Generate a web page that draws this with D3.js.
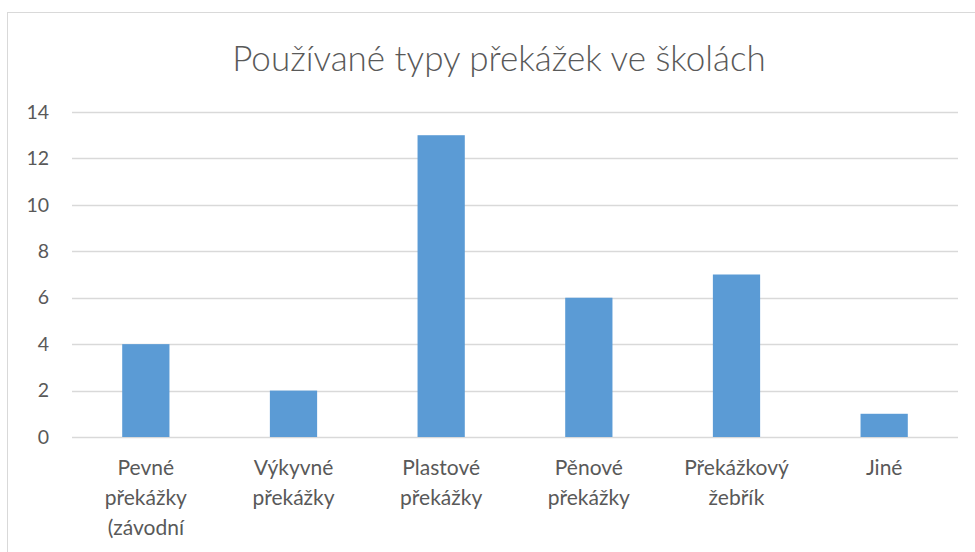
<!DOCTYPE html>
<html>
  <head>
    <meta charset="utf-8">
    <title>Používané typy překážek ve školách</title>
    <style>
      body { margin: 0; background: #fff; }
      svg text { font-family: "Lato", "Open Sans", sans-serif; fill: #595959; }
    </style>
  </head>
  <body>
    <div id="container"></div>
    <script src="https://cdn.jsdelivr.net/npm/d3@7/dist/d3.min.js"></script>
    <script>
      // data
      var categories = ["Pevné překážky (závodní", "Výkyvné překážky", "Plastové překážky",
                        "Pěnové překážky", "Překážkový žebřík", "Jiné"];
      var labelLines = [["Pevné", "překážky", "(závodní"], ["Výkyvné", "překážky"], ["Plastové", "překážky"],
                        ["Pěnové", "překážky"], ["Překážkový", "žebřík"], ["Jiné"]];
      var counts = [4, 2, 13, 6, 7, 1];
      var yTicks = [0, 2, 4, 6, 8, 10, 12, 14];

      var width = 975, height = 552;
      var margin = {top: 112, right: 17, bottom: 115, left: 72};

      var svg = d3.select("#container").append("svg")
        .attr("width", width)
        .attr("height", height);

      // chart frame (cut off on the right and bottom like the original)
      svg.append("rect")
        .attr("x", 7.5).attr("y", 12.5)
        .attr("width", 1000).attr("height", 600)
        .attr("fill", "none")
        .attr("stroke", "#d9d9d9");

      svg.append("text")
        .attr("x", 499).attr("y", 71)
        .attr("text-anchor", "middle")
        .style("font-size", "35px")
        .style("font-weight", 300)
        .text("Používané typy překážek ve školách");

      var x = d3.scaleBand()
        .domain(categories)
        .range([margin.left, width - margin.right])
        .paddingInner(0.68)
        .paddingOuter(0.34);

      var y = d3.scaleLinear()
        .domain([0, 14])
        .range([height - margin.bottom, margin.top]);

      // gridlines
      svg.append("g")
        .selectAll("line")
        .data(yTicks)
        .enter().append("line")
          .attr("x1", margin.left)
          .attr("x2", width - margin.right)
          .attr("y1", function(d) { return Math.round(y(d)) + 0.5; })
          .attr("y2", function(d) { return Math.round(y(d)) + 0.5; })
          .attr("stroke", "#d9d9d9")
          .attr("stroke-width", 1.5);

      var yAxis = svg.append("g")
        .attr("transform", "translate(" + margin.left + ",0)")
        .call(d3.axisLeft(y).tickValues(yTicks).tickSize(0).tickPadding(23));
      yAxis.select(".domain").remove();
      yAxis.selectAll("text").style("font-size", "19.5px").attr("fill", "#595959");

      svg.append("g")
        .selectAll("rect")
        .data(counts)
        .enter().append("rect")
          .attr("x", function(d, i) { return x(categories[i]); })
          .attr("y", function(d) { return y(d); })
          .attr("width", x.bandwidth())
          .attr("height", function(d) { return y(0) - y(d); })
          .attr("fill", "#5b9bd5");

      // category labels, wrapped as in the original
      var labels = svg.append("g")
        .selectAll("text")
        .data(labelLines)
        .enter().append("text")
          .attr("text-anchor", "middle")
          .style("font-size", "21px")
          .attr("transform", function(d, i) {
            return "translate(" + (x(categories[i]) + x.bandwidth() / 2) + "," + (y(0) + 38) + ")";
          });
      labels.selectAll("tspan")
        .data(function(d) { return d; })
        .enter().append("tspan")
          .attr("x", 0)
          .attr("dy", function(d, j) { return j === 0 ? 0 : 30; })
          .text(function(d) { return d; });
    </script>
  </body>
</html>
